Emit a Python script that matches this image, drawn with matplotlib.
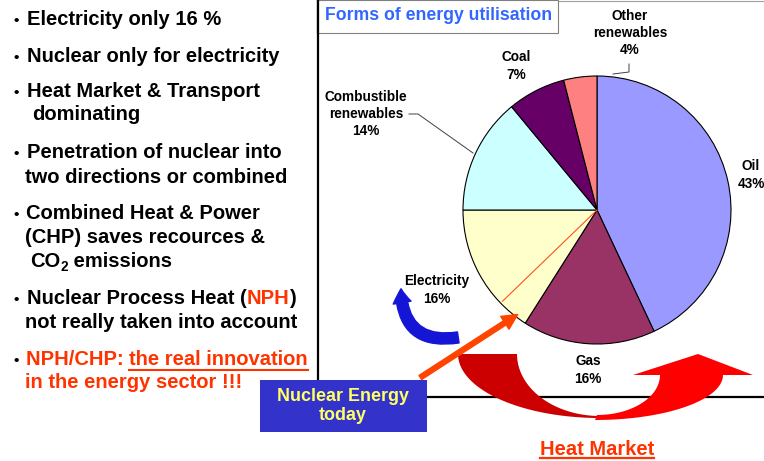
import numpy as np
import matplotlib
matplotlib.use('Agg')
import matplotlib.pyplot as plt
from matplotlib.patches import Polygon, FancyArrowPatch, Rectangle

W, H = 764, 461
plt.rcParams['font.family'] = ['Liberation Sans', 'DejaVu Sans']
plt.rcParams['font.weight'] = 'bold'

# ---------------- data ----------------
sources = ['Oil', 'Gas', 'Electricity', 'Combustible\nrenewables', 'Coal', 'Other\nrenewables']
shares = [43, 16, 16, 14, 7, 4]
colours = ['#9999FF', '#993366', '#FFFFCC', '#CCFFFF', '#660066', '#FF8080']
label_xy = [(751, 175), (588, 370), (437, 290), (366, 114), (516, 66), (630, 33)]

K = 'black'
R = '#FF3300'
# (x, baseline, bullet, [(text, colour, style)])
bullet_lines = [
    (27, 25, True, [('Electricity only 16 %', K, '')]),
    (27, 62, True, [('Nuclear only for electricity', K, '')]),
    (27, 97, True, [('Heat Market & Transport', K, '')]),
    (32, 120, False, [('dominating', K, '')]),
    (27, 158, True, [('Penetration of nuclear into', K, '')]),
    (25, 183, False, [('two directions or combined', K, '')]),
    (26, 219, True, [('Combined Heat & Power', K, '')]),
    (25, 243, False, [('(CHP) saves recources &', K, '')]),
    (30, 267, False, [('CO', K, ''), ('2', K, 'sub'), (' emissions', K, '')]),
    (27, 304, True, [('Nuclear Process Heat (', K, ''), ('NPH', R, ''), (')', K, '')]),
    (25, 328, False, [('not really taken into account', K, '')]),
    (26, 365, True, [('NPH/CHP: ', R, ''), ('the real innovation', R, 'under')]),
    (25, 388, False, [('in the energy sector !!!', R, '')]),
]

fig = plt.figure(figsize=(W / 100, H / 100), dpi=100)
fig.patch.set_facecolor('white')

# ---------------- pie ----------------
cx, cy, rad = 597, 210, 134
lim = 1.02
pie_ax = fig.add_axes([(cx - rad * lim) / W, 1 - (cy + rad * lim) / H,
                       2 * rad * lim / W, 2 * rad * lim / H])
pie_ax.pie(shares, colors=colours, startangle=90, counterclock=False, radius=1,
           wedgeprops=dict(edgecolor='black', linewidth=0.8))
pie_ax.set_xlim(-lim, lim)
pie_ax.set_ylim(-lim, lim)
pie_ax.axis('off')
# thin red line from centre into the electricity slice
ang = np.deg2rad(224)
pie_ax.plot([0, 0.98 * np.cos(ang)], [0, 0.98 * np.sin(ang)], color='#FF5020', lw=0.8)

# ---------------- slide canvas ----------------
cv = fig.add_axes([0, 0, 1, 1])
cv.set_xlim(0, W)
cv.set_ylim(H, 0)
cv.axis('off')
cv.patch.set_visible(False)
rend = fig.canvas.get_renderer()

# frame of the chart panel
cv.plot([318, 318, W], [0, 397, 397], color='black', lw=1.6, zorder=2)
cv.plot([318, W], [1, 1], color='#A0A0A0', lw=0.8, zorder=2)
cv.add_patch(Rectangle((318, 0), 240, 33, facecolor='white', edgecolor='#808080', lw=0.8, zorder=3))
cv.plot([318, 318], [0, 33], color='black', lw=1.6, zorder=4)
cv.text(325, 16, 'Forms of energy utilisation', color='#3366FF', fontsize=12.7,
        va='center', ha='left', zorder=5)

# pie labels
for name, val, (lx, ly) in zip(sources, shares, label_xy):
    cv.text(lx, ly, f'{name}\n{val}%', fontsize=9.8, ha='center', va='center',
            linespacing=1.3, zorder=5)
cv.plot([629, 629, 613], [64, 72, 74], color='#404040', lw=0.7, zorder=5)
cv.plot([409, 418, 473], [114, 114, 153], color='#404040', lw=0.7, zorder=5)

# left bullet text
for x, y, bullet, parts in bullet_lines:
    if bullet:
        cv.text(13, y, '\u2022', fontsize=11, va='baseline', ha='left', zorder=5)
    for txt, col, style in parts:
        size = 9.8 if style == 'sub' else 14.5
        dy = 4 if style == 'sub' else 0
        t = cv.text(x, y + dy, txt, color=col, fontsize=size, va='baseline', ha='left', zorder=5)
        w = t.get_window_extent(renderer=rend).width
        if style == 'under':
            cv.plot([x, x + w], [y + 5, y + 5], color=col, lw=1.5, zorder=5)
        x += w

# red heat-market arrows
th = np.linspace(np.pi, np.pi / 2, 40)
outer = np.c_[600 + 142 * np.cos(th), 354 + 64 * np.sin(th)]
inner = np.c_[600 + 83 * np.cos(th[::-1]), 354 + 62 * np.sin(th[::-1])]
cv.add_patch(Polygon(np.r_[outer, inner], closed=True, facecolor='#CC0000',
                     edgecolor='none', zorder=6))
th = np.linspace(np.pi / 2, 0, 40)
outer = np.c_[595 + 128 * np.cos(th), 375 + 45 * np.sin(th)]
inner = np.c_[597 + 63 * np.cos(th[::-1]), 375 + 40 * np.sin(th[::-1])]
head = np.array([[753, 375], [698, 354], [633, 375]])
cv.add_patch(Polygon(np.r_[outer, head, inner], closed=True, facecolor='#FF0000',
                     edgecolor='none', zorder=6))

# blue electricity arrow
cv.add_patch(FancyArrowPatch((461, 337), (401, 286), connectionstyle='arc3,rad=-0.6',
                             arrowstyle='simple,head_width=13,head_length=10,tail_width=8',
                             mutation_scale=1, color='#1515D5', zorder=6))
# orange arrow from the box
cv.add_patch(FancyArrowPatch((418, 379), (520, 313),
                             arrowstyle='simple,head_width=11,head_length=11,tail_width=3.5',
                             mutation_scale=1, color='#FF4400', zorder=6))

# nuclear energy box
cv.add_patch(Rectangle((260, 380), 167, 52, facecolor='#3333CC', edgecolor='none', zorder=7))
cv.text(343, 406, 'Nuclear Energy\ntoday', color='#FFFF66', fontsize=12.9, ha='center',
        va='center', linespacing=1.15, zorder=8)

# heat market title
t = cv.text(597, 455, 'Heat Market', color=R, fontsize=14.5, ha='center', va='baseline', zorder=8)
bb = t.get_window_extent(renderer=rend)
cv.plot([597 - bb.width / 2, 597 + bb.width / 2], [458, 458], color=R, lw=1.6, zorder=8)

fig.savefig('out.png', dpi=100)
